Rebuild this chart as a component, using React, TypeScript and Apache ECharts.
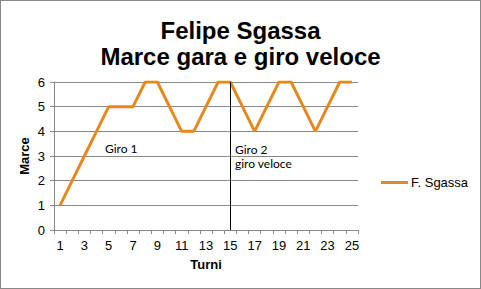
import React, { useEffect, useRef } from "react";
import * as echarts from "echarts";

const turni = ["1","2","3","4","5","6","7","8","9","10","11","12","13","14","15","16","17","18","19","20","21","22","23","24","25"];
const marce = [1,2,3,4,5,5,5,6,6,5,4,4,5,6,6,5,4,5,6,6,5,4,5,6,6];
const seriesName = "F. Sgassa";
const titleLines = ["Felipe Sgassa", "Marce gara e giro veloce"];
const markerTurno = "15";
const notes = ["Giro 1", "Giro 2\ngiro veloce"];

export default function App() {
  const ref = useRef<HTMLDivElement>(null);
  useEffect(() => {
    document.body.style.margin = "0";
    const chart = echarts.init(ref.current!, null, { renderer: "svg" });
    chart.setOption({
      animation: false,
      backgroundColor: "#fff",
      title: {
        text: titleLines.join("\n"),
        left: "center",
        top: 11,
        textStyle: { fontFamily: "Liberation Sans", fontWeight: "bold", fontSize: 24, lineHeight: 26, color: "#000" },
      },
      legend: {
        data: [{ name: seriesName, icon: "rect" }],
        left: 375,
        top: 170,
        itemWidth: 27,
        itemHeight: 3,
        itemGap: 4,
        textStyle: { fontFamily: "Liberation Sans", fontSize: 13, color: "#000", padding: [0, 0, 0, -2] },
      },
      grid: { left: 53, right: 122, top: 81, bottom: 58 },
      xAxis: {
        type: "category",
        data: turni,
        boundaryGap: true,
        name: "Turni",
        nameLocation: "middle",
        nameGap: 28,
        nameMoveOverlap: false,
        nameTextStyle: { fontFamily: "Liberation Sans", fontWeight: "bold", fontSize: 13, color: "#000" },
        axisLine: { lineStyle: { color: "#888" } },
        axisTick: { show: true, interval: 0, length: 4, lineStyle: { color: "#888" } },
        axisLabel: { interval: 1, fontFamily: "Liberation Sans", fontSize: 13, color: "#000", margin: 9 },
      },
      yAxis: {
        type: "value",
        min: 0,
        max: 6,
        interval: 1,
        name: "Marce",
        nameLocation: "middle",
        nameGap: 23,
        nameMoveOverlap: false,
        nameTextStyle: { fontFamily: "Liberation Sans", fontWeight: "bold", fontSize: 13, color: "#000" },
        axisLine: { show: true, lineStyle: { color: "#888" } },
        axisTick: { show: true, length: 4, lineStyle: { color: "#888" } },
        axisLabel: { fontFamily: "Liberation Sans", fontSize: 13, color: "#000", margin: 9 },
        splitLine: { lineStyle: { color: "#888" } },
      },
      series: [
        {
          name: seriesName,
          type: "line",
          data: marce,
          showSymbol: false,
          symbol: "none",
          lineStyle: { color: "#E5891C", width: 3 },
          itemStyle: { color: "#E5891C" },
          markLine: {
            silent: true,
            symbol: "none",
            label: { show: false },
            lineStyle: { color: "#000", width: 1, type: "solid" },
            data: [{ xAxis: markerTurno }],
          },
        },
      ],
      graphic: [
        { type: "text", left: 104, top: 141, style: { text: notes[0], fontFamily: "Lato", fontSize: 12, fill: "#000" } },
        { type: "text", left: 234, top: 141, style: { text: notes[1], fontFamily: "Lato", fontSize: 12, lineHeight: 14, fill: "#000" } },
      ],
    });
    return () => chart.dispose();
  }, []);
  return (
    <div
      ref={ref}
      style={{ width: 481, height: 289, boxSizing: "border-box", border: "1px solid #888" }}
    />
  );
}
